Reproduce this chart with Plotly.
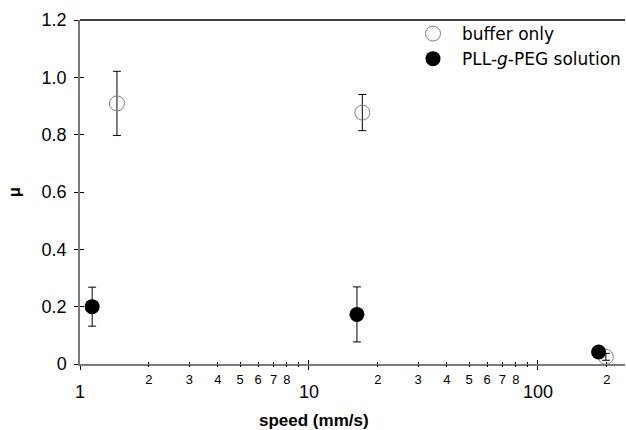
import plotly.graph_objects as go
import math

# ---- data ----
buffer_speed = [1.45, 17.1, 198]
buffer_mu = [0.909, 0.877, 0.025]
buffer_err = [0.112, 0.063, 0.012]

pll_speed = [1.13, 16.2, 184]
pll_mu = [0.200, 0.173, 0.042]
pll_err = [0.068, 0.096, 0.010]

y_ticks = [0, 0.2, 0.4, 0.6, 0.8, 1.0, 1.2]
y_ticktext = ["0", "0.2", "0.4", "0.6", "0.8", "1.0", "1.2"]
x_major = [1, 10, 100]
x_major_text = ["1", "10", "100"]
x_minor = [2, 3, 4, 5, 6, 7, 8, 9, 20, 30, 40, 50, 60, 70, 80, 90, 200]
x_minor_text = ["2", "3", "4", "5", "6", "7", "8", "", "2", "3", "4", "5", "6", "7", "8", "", "2"]

XR = [0, math.log10(240)]
YR = [0, 1.2]
AX_FONT = "Liberation Sans, Arial, sans-serif"

fig = go.Figure()
fig.add_trace(go.Scatter(
    x=buffer_speed, y=buffer_mu, mode="markers", name="buffer only",
    marker=dict(symbol="circle-open", size=15, color="#808080", line=dict(width=1, color="#808080")),
    error_y=dict(type="data", array=buffer_err, color="black", thickness=1, width=4),
    cliponaxis=False,
))
fig.add_trace(go.Scatter(
    x=pll_speed, y=pll_mu, mode="markers", name="PLL-<i>g</i>-PEG solution",
    marker=dict(symbol="circle", size=15, color="black"),
    error_y=dict(type="data", array=pll_err, color="black", thickness=1, width=4),
    cliponaxis=False,
))

# invisible helper traces so the overlay (tick-only) axes are drawn
for xa, ya in [("x2", "y"), ("x3", "y"), ("x4", "y"), ("x", "y2")]:
    fig.add_trace(go.Scatter(x=[1], y=[0], xaxis=xa, yaxis=ya, mode="markers",
                             marker=dict(opacity=0), showlegend=False, hoverinfo="skip"))

common_x = dict(type="log", range=XR, showgrid=False, zeroline=False, domain=[0, 1])
fig.update_layout(
    width=626, height=430,
    margin=dict(l=80, r=0, t=20, b=66),
    plot_bgcolor="white", paper_bgcolor="white",
    xaxis=dict(**common_x, showline=True, linecolor="#7a7a7a", linewidth=1.5,
               tickmode="array", tickvals=x_major, ticktext=x_major_text,
               ticks="outside", ticklen=4, tickcolor="black", tickwidth=1,
               tickfont=dict(family=AX_FONT, size=18, color="black"),
               ticklabelstandoff=7),
    xaxis2=dict(**common_x, overlaying="x", anchor="y", showline=False,
                tickmode="array", tickvals=x_major, ticks="inside", ticklen=4,
                tickcolor="black", showticklabels=False),
    xaxis3=dict(**common_x, overlaying="x", anchor="y", showline=False,
                tickmode="array", tickvals=x_minor, ticktext=x_minor_text,
                ticks="outside", ticklen=2, tickcolor="black",
                tickfont=dict(family=AX_FONT, size=13, color="black"),
                ticklabelstandoff=1),
    xaxis4=dict(**common_x, overlaying="x", anchor="y", showline=False,
                tickmode="array", tickvals=x_minor, ticks="inside", ticklen=2,
                tickcolor="black", showticklabels=False),
    yaxis=dict(range=YR, showgrid=False, zeroline=False, showline=True,
               linecolor="#7a7a7a", linewidth=1.5,
               tickmode="array", tickvals=y_ticks, ticktext=y_ticktext,
               ticks="outside", ticklen=4, tickcolor="black",
               tickfont=dict(family=AX_FONT, size=18, color="black"),
               ticklabelstandoff=4),
    yaxis2=dict(range=YR, overlaying="y", anchor="x", showgrid=False, zeroline=False,
                showline=False, tickmode="array", tickvals=y_ticks, ticks="inside",
                ticklen=4, tickcolor="black", showticklabels=False),
    showlegend=True,
    legend=dict(x=0.5944, y=1.0116, xanchor="left", yanchor="top",
                bgcolor="rgba(0,0,0,0)", itemwidth=48,
                font=dict(family="DejaVu Sans, sans-serif", size=17, color="black")),
)

# top frame line
fig.add_shape(type="line", xref="paper", yref="paper", x0=0, x1=1, y0=1, y1=1,
              line=dict(color="black", width=1.5))

# axis titles
fig.add_annotation(text="<b>speed (mm/s)</b>", xref="x", yref="paper",
                   x=math.log10(10.5), y=0, yshift=-56, yanchor="middle", xanchor="center",
                   showarrow=False, font=dict(family=AX_FONT, size=17, color="black"))
fig.add_annotation(text="<b>μ</b>", xref="paper", yref="paper",
                   x=0, y=0.5, xshift=-66, xanchor="center", yanchor="middle",
                   textangle=-90, showarrow=False,
                   font=dict(family=AX_FONT, size=16, color="black"))

fig.write_html("out.html")
